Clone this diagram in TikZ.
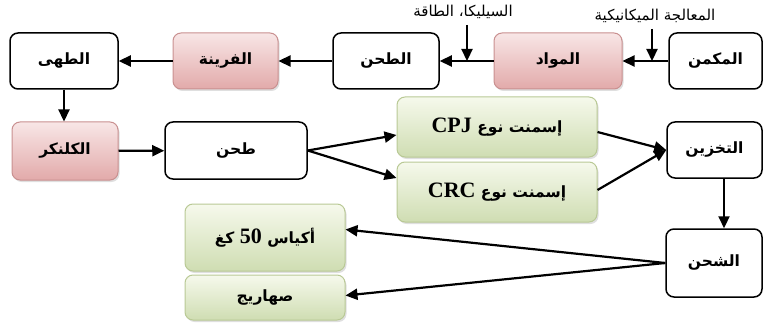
\documentclass[tikz,border=0pt]{standalone}
\usepackage{fontspec}
\TeXXeTstate=1
\newfontfamily\arabicfont[Script=Arabic]{DejaVu Sans}
\newfontfamily\latserif{Liberation Serif}
\usetikzlibrary{arrows.meta,shadows,calc}
\definecolor{pinktop}{HTML}{F8E6E6}
\definecolor{pinkbot}{HTML}{E2AAAA}
\definecolor{pinkline}{HTML}{C99090}
\definecolor{greentop}{HTML}{F6F9EC}
\definecolor{greenbot}{HTML}{CFDDB2}
\definecolor{greenline}{HTML}{B9C995}
\newcommand\ARtxt[1]{\beginR #1\endR}
\newcommand\LTtxt[1]{\beginL{\latserif\bfseries\fontsize{22}{24}\selectfont #1}\endL}
\begin{document}
\begin{tikzpicture}[x=1pt,y=-1pt,
  base/.style={rounded corners=8pt, align=center, inner sep=0pt,
    font=\arabicfont\bfseries\fontsize{15.5}{18}\selectfont},
  plainbox/.style={base, draw=black, line width=1.5pt, fill=white},
  pinkbox/.style={base, draw=pinkline, line width=1pt, top color=pinktop, bottom color=pinkbot,
    drop shadow={opacity=0.25, shadow xshift=1.5pt, shadow yshift=-2pt}},
  greenbox/.style={base, draw=greenline, line width=1pt, top color=greentop, bottom color=greenbot,
    drop shadow={opacity=0.25, shadow xshift=1.5pt, shadow yshift=-2pt}},
  arr/.style={-{Triangle[length=12pt,width=11pt]}, line width=2.2pt},
  lbl/.style={font=\arabicfont\fontsize{15}{17}\selectfont, inner sep=0pt}
]
\useasboundingbox (0,0) rectangle (768,326);

% first row
\node[plainbox, minimum width=108pt, minimum height=56pt] (taha)   at (64,61)    {\ARtxt{الطهى}};
\node[pinkbox,  minimum width=105pt, minimum height=56pt] (farina) at (225.5,61) {\ARtxt{الفرينة}};
\node[plainbox, minimum width=106pt, minimum height=56pt] (tahna)  at (386,61)   {\ARtxt{الطحن}};
\node[pinkbox,  minimum width=128pt, minimum height=56pt] (mawad)  at (558,61)   {\ARtxt{المواد}};
\node[plainbox, minimum width=93pt,  minimum height=56pt] (makman) at (715.5,61) {\ARtxt{المكمن}};

% labels
\node[lbl] (lmech) at (655,16) {\ARtxt{المعالجة الميكانيكية}};
\node[lbl] (ladd)  at (463,12) {\ARtxt{السيليكا، الطاقة}};
\coordinate (m1) at (652,29);
\coordinate (m1e) at (652,61);
\coordinate (a1) at (467,25);
\coordinate (a1e) at (467,61);

% second row
\node[pinkbox,  minimum width=106pt, minimum height=58pt] (klinker) at (65,151)    {\ARtxt{الكلنكر}};
\node[plainbox, minimum width=142pt, minimum height=57pt] (tahnb)   at (236,150.5) {\ARtxt{طحن}};
\node[greenbox, minimum width=200pt, minimum height=60pt] (cpj)     at (497,127)   {\ARtxt{إسمنت نوع \LTtxt{CPJ}}};
\node[greenbox, minimum width=200pt, minimum height=60pt] (crc)     at (497,192)   {\ARtxt{إسمنت نوع \LTtxt{CRC}}};
\node[plainbox, minimum width=95pt,  minimum height=56pt] (takhzin) at (714.5,150) {\ARtxt{التخزين}};

% third row
\node[plainbox, minimum width=96pt,  minimum height=68pt] (shahn)  at (714,263)   {\ARtxt{الشحن}};
\node[greenbox, minimum width=160pt, minimum height=67pt] (akyas)  at (265,237.5) {\ARtxt{أكياس \LTtxt{50} كغ}};
\node[greenbox, minimum width=160pt, minimum height=45pt] (sahrij) at (265,297.5) {\ARtxt{صهاريج}};

% connectors
\draw[arr] (makman) -- (mawad);
\draw[arr] (mawad) -- (tahna);
\draw[arr] (tahna) -- (farina);
\draw[arr] (farina) -- (taha);
\draw[arr] (m1) -- (m1e);
\draw[arr] (a1) -- (a1e);
\draw[arr] (taha.south) -- (klinker.north -| taha.south);
\draw[arr] (klinker) -- (tahnb);
\draw[arr] (tahnb.east) -- ($(cpj.west)+(0,8)$);
\draw[arr] (tahnb.east) -- ($(crc.west)+(0,-14)$);
\draw[arr] ($(cpj.east)+(0,5)$) -- (takhzin.west);
\draw[arr] ($(crc.east)+(0,-2)$) -- (takhzin.west);
\draw[arr] (takhzin.south -| 724,0) -- (shahn.north -| 724,0);
\draw[arr] (shahn.west) -- ($(akyas.east)+(0,-8)$);
\draw[arr] (shahn.west) -- ($(sahrij.east)+(0,-2)$);
\end{tikzpicture}
\end{document}
